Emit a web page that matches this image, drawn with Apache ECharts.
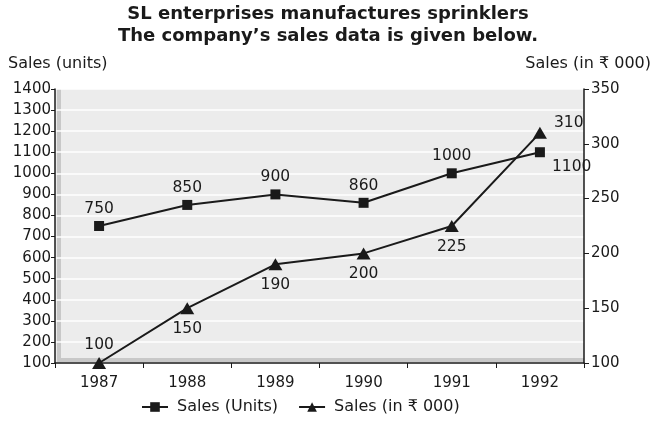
<!DOCTYPE html>
<html>
<head>
<meta charset="utf-8">
<script src="https://cdn.jsdelivr.net/npm/echarts@6/dist/echarts.min.js"></script>
<style>
  html, body { margin: 0; padding: 0; background: #fff; }
  #chart { width: 656px; height: 421px; }
</style>
</head>
<body>
<div id="chart"></div>
<script>
// Sales figures of SL enterprises, 1987-1992
const years = ['1987', '1988', '1989', '1990', '1991', '1992'];
const salesUnits = [750, 850, 900, 860, 1000, 1100];
const salesRupees = [100, 150, 190, 200, 225, 310];
// label placement per point: 'top' / 'bottom' / 'br' (right, lower) / 'tr' (right, upper)
const unitLabelPos = ['top', 'top', 'top', 'top', 'top', 'br'];
const rupeeLabelPos = ['top', 'bottom', 'bottom', 'bottom', 'bottom', 'tr'];

const FONT = '"DejaVu Sans", "Liberation Sans", Arial, sans-serif';
const INK = '#1a1a1a';

// plot rectangle
const G = { left: 55, right: 72, top: 89, bottom: 58 };
const W = 656, H = 421;

function labelFor(pos) {
  const base = { show: true, fontSize: 15.5, color: INK, fontFamily: FONT };
  if (pos === 'br') return Object.assign(base, { position: 'right', distance: 7, offset: [0, 15] });
  if (pos === 'tr') return Object.assign(base, { position: 'right', distance: 7, offset: [0, -10] });
  if (pos === 'top') return Object.assign(base, { position: 'top', distance: 4 });
  return Object.assign(base, { position: pos, distance: 7 });
}

const chart = echarts.init(document.getElementById('chart'), null, { renderer: 'canvas' });

const gw = W - G.left - G.right;
const gh = H - G.top - G.bottom;

chart.setOption({
  animation: false,
  backgroundColor: '#fff',
  textStyle: { fontFamily: FONT, color: INK },
  title: {
    text: 'SL enterprises manufactures sprinklers\nThe company’s sales data is given below.',
    left: 'center',
    top: -2,
    textStyle: { fontSize: 18, fontWeight: 'bold', color: INK, lineHeight: 22, fontFamily: FONT }
  },
  legend: {
    bottom: 1,
    left: 136,
    itemWidth: 26,
    itemHeight: 12,
    itemGap: 20,
    textStyle: { fontSize: 16, color: INK, fontFamily: FONT, padding: [0, 0, 0, 4] },
    data: ['Sales (Units)', 'Sales (in ₹ 000)']
  },
  grid: {
    left: G.left, right: G.right, top: G.top, bottom: G.bottom,
    show: true,
    backgroundColor: '#ececec',
    borderWidth: 0
  },
  // shaded wall and floor strips of the plot frame
  graphic: [
    {
      type: 'rect', z: 1, silent: true,
      shape: { x: G.left + 2, y: G.top, width: 4, height: gh },
      style: { fill: '#c8c8c8' }
    },
    {
      type: 'rect', z: 1, silent: true,
      shape: { x: G.left + 2, y: G.top + gh - 5, width: gw - 2, height: 4 },
      style: { fill: '#c8c8c8' }
    }
  ],
  xAxis: {
    type: 'category',
    data: years,
    boundaryGap: true,
    z: 3,
    axisLine: { lineStyle: { color: INK, width: 1.5 } },
    axisTick: { show: true, length: 5, lineStyle: { color: INK } },
    axisLabel: { fontSize: 15, color: INK, margin: 13, fontFamily: FONT }
  },
  yAxis: [
    {
      type: 'value',
      min: 100, max: 1400, interval: 100,
      name: 'Sales (units)',
      nameLocation: 'end',
      nameGap: 17,
      nameTextStyle: { fontSize: 16, color: INK, align: 'left', padding: [0, 0, 0, -47], fontFamily: FONT },
      z: 3,
      axisLine: { show: true, lineStyle: { color: INK, width: 1.5 } },
      axisTick: { show: true, length: 4, lineStyle: { color: INK } },
      axisLabel: { fontSize: 15, color: INK, margin: 4, fontFamily: FONT, formatter: v => String(v) },
      splitLine: { show: true, lineStyle: { color: '#ffffff', width: 1.5 } }
    },
    {
      type: 'value',
      min: 100, max: 350, interval: 50,
      name: 'Sales (in ₹ 000)',
      nameLocation: 'end',
      nameGap: 17,
      nameTextStyle: { fontSize: 16, color: INK, align: 'right', padding: [0, -67, 0, 0], fontFamily: FONT },
      z: 3,
      axisLine: { show: true, lineStyle: { color: INK, width: 1.5 } },
      axisTick: { show: true, length: 5, lineStyle: { color: INK } },
      axisLabel: { fontSize: 15, color: INK, margin: 7, fontFamily: FONT },
      splitLine: { show: false }
    }
  ],
  series: [
    {
      name: 'Sales (Units)',
      type: 'line',
      yAxisIndex: 0,
      z: 4,
      symbol: 'rect',
      symbolSize: 10,
      lineStyle: { color: INK, width: 2 },
      itemStyle: { color: INK },
      data: salesUnits.map((v, i) => ({ value: v, label: labelFor(unitLabelPos[i]) }))
    },
    {
      name: 'Sales (in ₹ 000)',
      type: 'line',
      yAxisIndex: 1,
      z: 4,
      symbol: 'triangle',
      symbolSize: [14, 12],
      lineStyle: { color: INK, width: 2 },
      itemStyle: { color: INK },
      data: salesRupees.map((v, i) => ({ value: v, label: labelFor(rupeeLabelPos[i]) }))
    }
  ]
});
</script>
</body>
</html>
